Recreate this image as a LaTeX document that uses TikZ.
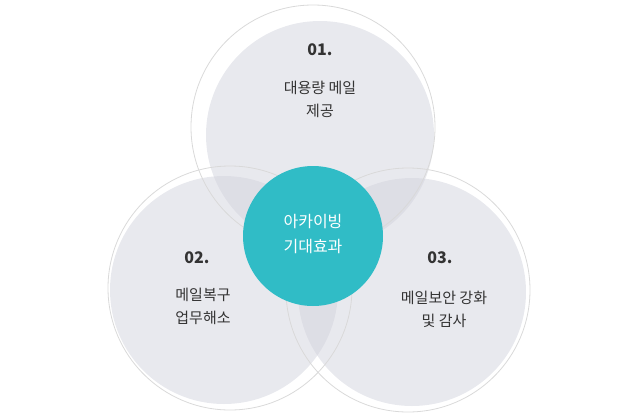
\documentclass[tikz,border=0pt]{standalone}
\usepackage{fontspec}
\newfontfamily\kr{Noto Sans CJK KR}
\definecolor{blobc}{HTML}{D2D3DD}
\definecolor{tealc}{HTML}{30BCC6}
\begin{document}
\begin{tikzpicture}[x=1pt,y=-1pt,
 ring/.style={draw=black!15,line width=0.8pt},
 blob/.style={fill=blobc,fill opacity=0.5},
 num/.style={font=\kr\bfseries\fontsize{16}{18}\selectfont,text=black!80},
 lab/.style={font=\kr\fontsize{15}{23}\selectfont,text=black!80,align=center}]
\useasboundingbox (0,0) rectangle (640,418);
\fill[blob] (320,135) circle (114);
\fill[blob] (224,290) circle (114);
\fill[blob] (412,292) circle (114);
\draw[ring] (313,127) circle (122);
\draw[ring] (230,288) circle (122);
\draw[ring] (408,290) circle (122);
\node[circle,fill=tealc,minimum size=140pt,inner sep=0pt] (c) at (313,236) {};
\node[lab,text=white,font=\kr\fontsize{16}{25}\selectfont] (ct) at (313,234) {아카이빙\\기대효과};
\node[num] (n1) at (320,50) {01.};
\node[lab] (l1) at (320,99) {대용량 메일\\제공};
\node[num] (n2) at (197,258) {02.};
\node[lab] (l2) at (203,306) {메일복구\\업무해소};
\node[num] (n3) at (440,258) {03.};
\node[lab] (l3) at (444,309) {메일보안 강화\\및 감사};
\end{tikzpicture}
\end{document}
